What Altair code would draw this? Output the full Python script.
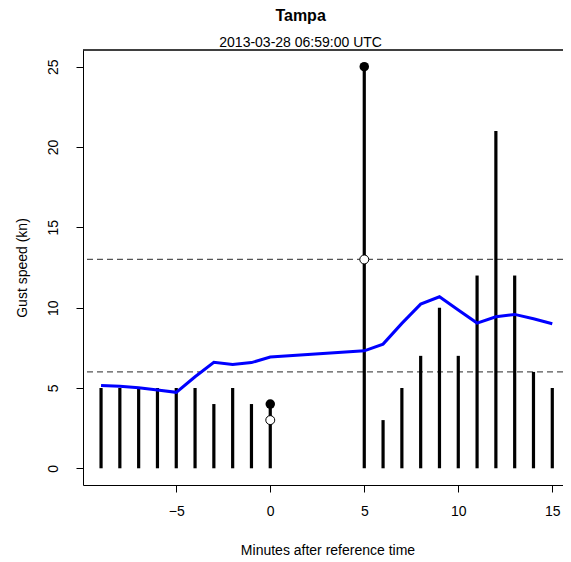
import altair as alt
import pandas as pd

# ---- data ----
minutes = [-9, -8, -7, -6, -5, -4, -3, -2, -1, 0, 5, 6, 7, 8, 9, 10, 11, 12, 13, 14, 15]
gusts = [5, 5, 5, 5, 5, 5, 4, 5, 4, 4, 25, 3, 5, 7, 10, 7, 12, 21, 12, 6, 5]
running_mean = [5.16, 5.10, 5.02, 4.88, 4.73, 5.70, 6.60, 6.46, 6.58, 6.93,
                7.31, 7.73, 9.02, 10.22, 10.68, 9.85, 9.04, 9.43, 9.58, 9.31, 9.00]
peak_minutes = [0, 5]
peak_values = [4, 25]
ref_minutes = [0, 5]
ref_values = [3, 13]
thresholds = [6, 13]

x_ticks = [-5, 0, 5, 10, 15]
y_ticks = [0, 5, 10, 15, 20, 25]

FONT = "Liberation Sans"
W, H = 480, 435

df = pd.DataFrame({"minute": minutes, "gust": gusts, "mean": running_mean, "zero": [0] * len(minutes)})
peaks = pd.DataFrame({"minute": peak_minutes, "gust": peak_values})
refs = pd.DataFrame({"minute": ref_minutes, "gust": ref_values})
thr = pd.DataFrame({"level": thresholds})

xscale = alt.Scale(domain=[-9.96, 15.57], nice=False, zero=False)
yscale = alt.Scale(domain=[-1.04, 26.04], nice=False, zero=False)

xaxis = alt.Axis(values=x_ticks, grid=False, domainColor="black", tickColor="black",
                 tickSize=7, labelFont=FONT, labelFontSize=14, labelColor="black",
                 labelPadding=12, title="Minutes after reference time", titleFont=FONT,
                 titleFontSize=14, titleFontWeight="normal", titleColor="black",
                 titleX=244.5, titleY=65, titleAlign="center", titleBaseline="middle",
                 labelFlush=False, labelOverlap=False)
yaxis = alt.Axis(values=y_ticks, grid=False, domainColor="black", tickColor="black",
                 tickSize=7, labelFont=FONT, labelFontSize=14, labelColor="black",
                 labelAngle=270, labelAlign="center", labelBaseline="bottom",
                 labelPadding=16, title="Gust speed (kn)", titleFont=FONT,
                 titleFontSize=14, titleFontWeight="normal", titleColor="black",
                 titleX=-61, titleY=217.5, titleAlign="center", titleBaseline="middle",
                 titleAngle=270, labelFlush=False, labelOverlap=False)

bars = alt.Chart(df).mark_rule(color="black", strokeWidth=3.2, strokeCap="butt").encode(
    x=alt.X("minute:Q", scale=xscale, axis=xaxis),
    y=alt.Y("zero:Q", scale=yscale, axis=yaxis),
    y2="gust:Q",
)

line = alt.Chart(df).mark_line(color="#0000FF", strokeWidth=3).encode(
    x=alt.X("minute:Q", scale=xscale),
    y=alt.Y("mean:Q", scale=yscale),
)

rules = alt.Chart(thr).mark_rule(color="#555555", strokeWidth=1.2, strokeDash=[6, 4]).encode(
    y=alt.Y("level:Q", scale=yscale),
)

filled = alt.Chart(peaks).mark_point(filled=True, color="black", size=90, opacity=1).encode(
    x=alt.X("minute:Q", scale=xscale),
    y=alt.Y("gust:Q", scale=yscale),
)

hollow = alt.Chart(refs).mark_point(shape="circle", fill="white", stroke="black",
                                     strokeWidth=1, size=80, opacity=1, fillOpacity=1).encode(
    x=alt.X("minute:Q", scale=xscale),
    y=alt.Y("gust:Q", scale=yscale),
)

top_border = alt.Chart(thr).mark_rule(color="black", strokeWidth=1).encode(
    x=alt.value(0), x2=alt.value(W), y=alt.value(0)
)

chart = alt.layer(rules, bars, line, filled, hollow, top_border).properties(
    width=W, height=H,
    title=alt.TitleParams(text="Tampa", subtitle="2013-03-28 06:59:00 UTC",
                          font=FONT, fontSize=16, fontWeight="bold", color="black",
                          subtitleFont=FONT, subtitleFontSize=14, subtitleColor="black",
                          subtitlePadding=12, anchor="middle", frame="group",
                          dx=-22.4, offset=0),
    autosize=alt.AutoSizeParams(type="none"),
    padding={"left": 75, "top": 42, "right": 0, "bottom": 76},
).configure_view(stroke=None)

chart.save("out.html", embed_options={"renderer": "svg", "actions": False})
